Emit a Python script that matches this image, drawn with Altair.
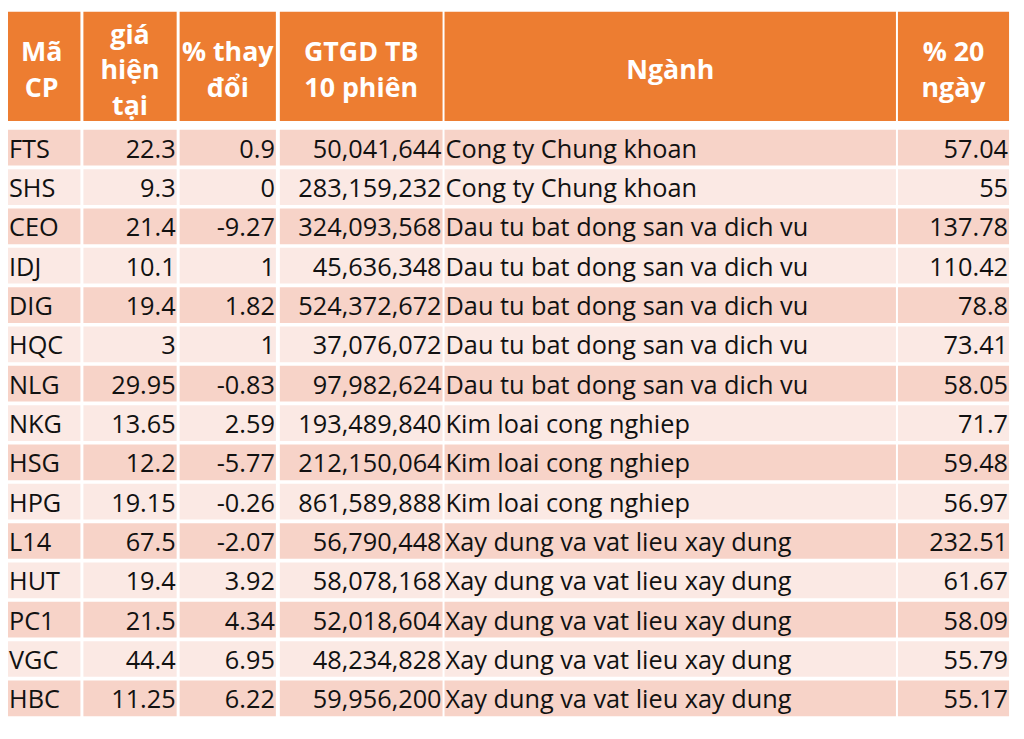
import altair as alt
import pandas as pd

# ---- data ----
ma_cp = ["FTS", "SHS", "CEO", "IDJ", "DIG", "HQC", "NLG", "NKG", "HSG", "HPG",
         "L14", "HUT", "PC1", "VGC", "HBC"]
gia_hien_tai = [22.3, 9.3, 21.4, 10.1, 19.4, 3, 29.95, 13.65, 12.2, 19.15,
                67.5, 19.4, 21.5, 44.4, 11.25]
pct_thay_doi = [0.9, 0, -9.27, 1, 1.82, 1, -0.83, 2.59, -5.77, -0.26,
                -2.07, 3.92, 4.34, 6.95, 6.22]
gtgd_tb_10 = [50041644, 283159232, 324093568, 45636348, 524372672, 37076072,
              97982624, 193489840, 212150064, 861589888, 56790448, 58078168,
              52018604, 48234828, 59956200]
nganh = ["Cong ty Chung khoan", "Cong ty Chung khoan",
         "Dau tu bat dong san va dich vu", "Dau tu bat dong san va dich vu",
         "Dau tu bat dong san va dich vu", "Dau tu bat dong san va dich vu",
         "Dau tu bat dong san va dich vu", "Kim loai cong nghiep",
         "Kim loai cong nghiep", "Kim loai cong nghiep",
         "Xay dung va vat lieu xay dung", "Xay dung va vat lieu xay dung",
         "Xay dung va vat lieu xay dung", "Xay dung va vat lieu xay dung",
         "Xay dung va vat lieu xay dung"]
pct_20_ngay = [57.04, 55, 137.78, 110.42, 78.8, 73.41, 58.05, 71.7, 59.48,
               56.97, 232.51, 61.67, 58.09, 55.79, 55.17]
headers = [["Mã", "CP"], ["giá", "hiện", "tại"], ["% thay", "đổi"],
           ["GTGD TB", "10 phiên"], ["Ngành"], ["% 20", "ngày"]]

# ---- layout (page pixel units) ----
col_left = [3, 84, 181, 282, 448, 905]
col_right = [81, 178, 278, 446, 903, 1017]
col_align = ["left", "right", "right", "right", "left", "right"]
head_top, head_bot = 9, 119
head_center, head_lh = 69, 36
row_top0, row_pitch, row_h = 128, 39.64, 36
W, H = 1016, 715
ORANGE = "#ED7D31"
DARK = "#F7D3C8"
LIGHT = "#FBE9E4"
FONT = "Open Sans"


def fmt(v):
    return f"{v:g}"


cols_text = [ma_cp,
             [fmt(v) for v in gia_hien_tai],
             [fmt(v) for v in pct_thay_doi],
             [f"{v:,}" for v in gtgd_tb_10],
             nganh,
             [fmt(v) for v in pct_20_ngay]]

cells, texts, heads = [], [], []
for j in range(6):
    cells.append(dict(x=col_left[j], x2=col_right[j], y=head_top, y2=head_bot, fill=ORANGE))
    n = len(headers[j])
    for k, line in enumerate(headers[j]):
        heads.append(dict(x=(col_left[j] + col_right[j]) / 2,
                          y=head_center + (k - (n - 1) / 2) * head_lh,
                          t=line))
    for i, val in enumerate(cols_text[j]):
        top = row_top0 + i * row_pitch
        cells.append(dict(x=col_left[j], x2=col_right[j], y=top, y2=top + row_h,
                          fill=DARK if i % 2 == 0 else LIGHT))
        if col_align[j] == "left":
            tx = max(col_left[j], 8) + 1
        else:
            tx = col_right[j] - 1
        texts.append(dict(x=tx, y=top + row_h / 2 + 2, t=val, align=col_align[j]))

cells_df = pd.DataFrame(cells)
texts_df = pd.DataFrame(texts)
heads_df = pd.DataFrame(heads)

xs = alt.Scale(domain=[8, 8 + W], nice=False, zero=False)
ys = alt.Scale(domain=[8, 8 + H], nice=False, zero=False, reverse=True)

rects = alt.Chart(cells_df).mark_rect().encode(
    x=alt.X("x:Q", scale=xs, axis=None),
    x2="x2:Q",
    y=alt.Y("y:Q", scale=ys, axis=None),
    y2="y2:Q",
    color=alt.Color("fill:N", scale=None),
)

head_text = alt.Chart(heads_df).mark_text(
    font=FONT, fontSize=27, fontWeight="bold", color="white",
    align="center", baseline="middle",
).encode(
    x=alt.X("x:Q", scale=xs, axis=None),
    y=alt.Y("y:Q", scale=ys, axis=None),
    text="t:N",
)

layers = [rects, head_text]
for al in ["left", "right"]:
    layers.append(
        alt.Chart(texts_df[texts_df["align"] == al]).mark_text(
            font=FONT, fontSize=25.5, color="#111111", align=al, baseline="middle",
        ).encode(
            x=alt.X("x:Q", scale=xs, axis=None),
            y=alt.Y("y:Q", scale=ys, axis=None),
            text="t:N",
        )
    )

chart = alt.layer(*layers).properties(
    width=W, height=H, autosize=alt.AutoSizeParams(type="none"),
    padding=0, background="white",
).configure_view(stroke=None)

chart.save("out.html", embed_options={"renderer": "svg", "actions": False})
